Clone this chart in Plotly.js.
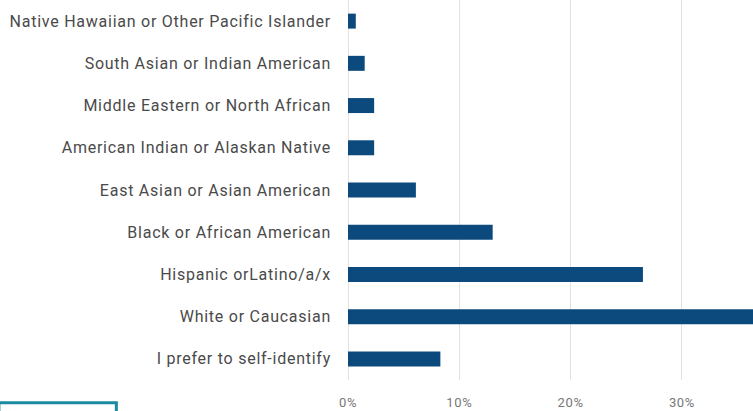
<!DOCTYPE html>
<html>
<head>
<meta charset="utf-8">
<script src="https://cdn.plot.ly/plotly-3.0.1.min.js"></script>
<style>
html,body{margin:0;padding:0;background:#fff;overflow:hidden;}
#chart{width:753px;height:411px;}
#chart .ytick text{letter-spacing:0.75px;}
#chart .xtick text{letter-spacing:0.6px;}
</style>
</head>
<body>
<div id="chart"></div>
<script>
const categories = [
  "Native Hawaiian or Other Pacific Islander",
  "South Asian or Indian American",
  "Middle Eastern or North African",
  "American Indian or Alaskan Native",
  "East Asian or Asian American",
  "Black or African American",
  "Hispanic orLatino/a/x",
  "White or Caucasian",
  "I prefer to self-identify"
];
const values = [0.7, 1.5, 2.35, 2.35, 6.1, 13.0, 26.5, 39.0, 8.3];
const tickVals = [0, 10, 20, 30, 40];
const tickText = ["0%", "10%", "20%", "30%", "40%"];

const data = [{
  type: "bar",
  orientation: "h",
  y: categories,
  x: values,
  marker: {color: "#0c4a7d"},
  hoverinfo: "skip"
}];

const layout = {
  width: 753,
  height: 411,
  margin: {l: 348, r: 0, t: 0, b: 31},
  paper_bgcolor: "#ffffff",
  plot_bgcolor: "#ffffff",
  bargap: 0.645,
  showlegend: false,
  font: {family: "Roboto, sans-serif"},
  xaxis: {
    range: [0, 36.39],
    tickvals: tickVals,
    ticktext: tickText,
    showgrid: true,
    gridcolor: "#e2e2e2",
    gridwidth: 1,
    zeroline: true,
    zerolinecolor: "#e2e2e2",
    zerolinewidth: 1,
    showline: false,
    ticks: "",
    ticklabelstandoff: 13,
    tickfont: {family: "Roboto, sans-serif", size: 13, color: "#777777"},
    fixedrange: true
  },
  yaxis: {
    type: "category",
    autorange: "reversed",
    showgrid: false,
    zeroline: false,
    showline: false,
    ticks: "",
    ticklabelstandoff: 16,
    tickfont: {family: "Roboto, sans-serif", size: 16, color: "#4a4a4a"},
    fixedrange: true
  },
  shapes: [{
    type: "rect",
    xref: "paper", yref: "paper",
    x0: -0.862, x1: -0.572,
    y0: -0.06, y1: -0.12,
    line: {color: "#1b8a9e", width: 3},
    fillcolor: "rgba(0,0,0,0)"
  }]
};

Plotly.newPlot("chart", data, layout, {displayModeBar: false, staticPlot: true});
</script>
</body>
</html>
